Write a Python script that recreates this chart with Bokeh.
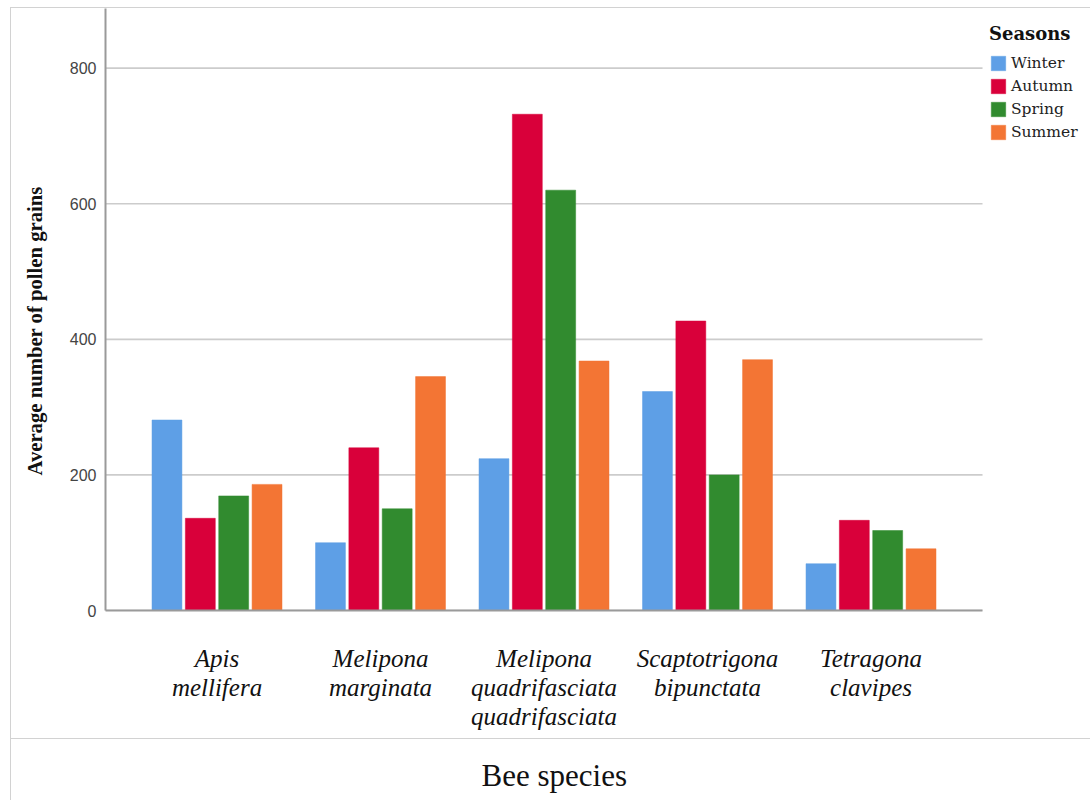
from bokeh.plotting import figure
from bokeh.models import (Range1d, ColumnDataSource, Legend, LegendItem,
                          FixedTicker, LinearAxis, Title)
from bokeh.transform import dodge
from bokeh.embed import file_html
from bokeh.resources import INLINE

# ---- data ----
species = ["Apis mellifera", "Melipona marginata",
           "Melipona quadrifasciata quadrifasciata",
           "Scaptotrigona bipunctata", "Tetragona clavipes"]
label_line1 = ["Apis", "Melipona", "Melipona", "Scaptotrigona", "Tetragona"]
label_line2 = ["mellifera", "marginata", "quadrifasciata", "bipunctata", "clavipes"]
label_line3 = ["", "", "quadrifasciata", "", ""]
seasons = ["Winter", "Autumn", "Spring", "Summer"]
winter = [281, 100, 224, 323, 69]
autumn = [136, 240, 732, 427, 133]
spring = [169, 150, 620, 200, 118]
summer = [186, 345, 368, 370, 91]
y_ticks = [0, 200, 400, 600, 800]
x_title = "Bee species"
y_title = "Average number of pollen grains"

colors = ["#5e9fe6", "#d9003a", "#318b2f", "#f37534"]
offsets = [-0.306, -0.102, 0.102, 0.306]
idx = list(range(len(species)))

src = ColumnDataSource(dict(x=idx, species=species, Winter=winter, Autumn=autumn,
                            Spring=spring, Summer=summer))

W, H = 1090, 800
X_LO, X_HI = -0.682, len(species) - 1 + 0.682   # extent of the plotted area
X_END = X_LO + 985 / 163.5                        # frame continues under the legend
X_TITLE_POS = 2.0625                              # centre of the x title
p = figure(width=W, height=H, output_backend="svg", toolbar_location=None,
           x_range=Range1d(X_LO, X_END),
           y_range=Range1d(0, 888),
           min_border_left=105, min_border_right=0,
           min_border_top=8, min_border_bottom=190)
p.outline_line_color = None
p.background_fill_color = "white"
p.border_fill_color = None
p.styles = {
    "background-color": "white",
    "background-image": ("linear-gradient(#d2d2d2,#d2d2d2), "
                         "linear-gradient(#d2d2d2,#d2d2d2), "
                         "linear-gradient(#d2d2d2,#d2d2d2)"),
    "background-size": "100% 1px, 1px 100%, 100% 1px",
    "background-position": "10px 7px, 10px 7px, 10px 738px",
    "background-repeat": "no-repeat",
}

# horizontal grid lines limited to the plotted area
p.xgrid.grid_line_color = None
p.ygrid.grid_line_color = None
p.segment(x0=[X_LO] * len(y_ticks), x1=[X_HI] * len(y_ticks), y0=y_ticks, y1=y_ticks,
          line_color="#cccccc", line_width=1.6)

renderers = []
for s, c, off in zip(seasons, colors, offsets):
    r = p.vbar(x=dodge("x", off), top=s, width=0.183,
               source=src, fill_color=c, line_color=c, line_alpha=0.5, line_width=1)
    renderers.append(r)

# y axis
p.yaxis.ticker = FixedTicker(ticks=y_ticks)
p.yaxis.axis_line_color = "#9a9a9a"
p.yaxis.axis_line_width = 2
p.yaxis.major_tick_line_color = None
p.yaxis.minor_tick_line_color = None
p.yaxis.major_label_text_font = "Liberation Sans"
p.yaxis.major_label_text_font_size = "16px"
p.yaxis.major_label_text_color = "#444444"
p.yaxis.major_label_standoff = 3

ytitle = Title(text=y_title, align="left", offset=135,
               text_font="Liberation Serif", text_font_style="bold",
               text_font_size="20.7px", text_color="#111111", standoff=41)
p.add_layout(ytitle, "left")

# x axes: one per label line
def style_xaxis(ax, ticks, labels, standoff, size="25px", style="italic", line=False):
    ax.ticker = FixedTicker(ticks=ticks)
    ax.major_label_overrides = {t: l for t, l in zip(ticks, labels)}
    ax.axis_line_color = "#9a9a9a" if line else None
    ax.axis_line_width = 2
    ax.major_tick_line_color = None
    ax.minor_tick_line_color = None
    ax.major_label_text_font = "Liberation Serif"
    ax.major_label_text_font_style = style
    ax.major_label_text_font_size = size
    ax.major_label_text_color = "#111111"
    ax.major_label_standoff = standoff
    ax.bounds = (X_LO, X_HI)

xa1 = p.xaxis[0]
style_xaxis(xa1, idx, label_line1, 28, line=True)
xa2 = LinearAxis()
style_xaxis(xa2, idx, label_line2, -7)
p.add_layout(xa2, "below")
xa3 = LinearAxis()
style_xaxis(xa3, idx, label_line3, -7)
p.add_layout(xa3, "below")
xa4 = LinearAxis()
style_xaxis(xa4, [X_TITLE_POS], [x_title], 19, size="31px", style="normal")
p.add_layout(xa4, "below")

# legend
legend = Legend(items=[LegendItem(label=s, renderers=[r]) for s, r in zip(seasons, renderers)],
                title="Seasons", location=(884, 469))
legend.title_text_font = "DejaVu Serif"
legend.title_text_font_style = "bold"
legend.title_text_font_size = "18px"
legend.title_text_color = "#111111"
legend.title_standoff = 10
legend.label_text_font = "DejaVu Serif"
legend.label_text_font_size = "15.5px"
legend.label_text_color = "#222222"
legend.glyph_width = 18
legend.glyph_height = 18
legend.label_height = 18
legend.label_standoff = 4
legend.spacing = 5
legend.padding = 0
legend.margin = 0
legend.border_line_color = None
legend.background_fill_alpha = 0
p.add_layout(legend, "center")

open("out.html", "w").write(file_html(p, INLINE))
